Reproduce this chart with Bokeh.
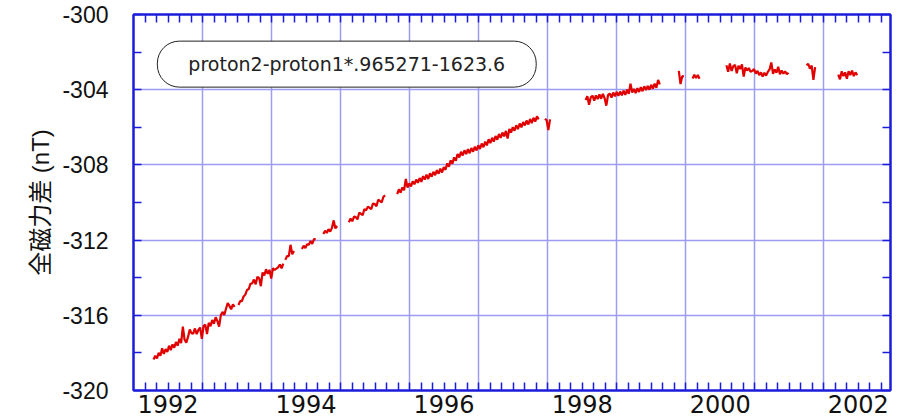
import numpy as np
from bokeh.plotting import figure
from bokeh.models import Range1d, FixedTicker, LinearAxis, Label
from bokeh.embed import file_html
from bokeh.resources import INLINE

# ---------------- data ----------------
STEP = 0.025  # years between samples
seg_starts = [1992.29, 1993.52, 1994.20, 1994.44, 1994.75, 1995.12, 1995.82,
              1997.96, 1998.55, 1999.90, 2000.10, 2000.59, 2001.75, 2002.21]

seg_a = [-318.35, -318.15, -318.30, -318.00, -318.15, -317.75, -318.05, -317.80, -317.95, -317.62,
         -317.85, -317.55, -317.72, -317.42, -317.62, -317.25, -317.48, -316.60, -317.30, -317.45,
         -317.15, -316.75, -316.95, -316.98, -316.70, -317.00, -316.78, -316.65, -317.25, -316.58,
         -316.50, -317.00, -316.40, -316.58, -316.25, -316.45, -316.10, -316.30, -316.60, -316.00,
         -315.82, -315.98, -315.65, -315.35, -315.50, -315.68, -315.42, -315.55]
seg_b = [-315.45, -315.25, -315.25, -315.00, -314.90, -314.65, -314.60, -314.32, -314.30, -314.10,
         -314.35, -313.95, -314.02, -314.45, -313.72, -313.88, -313.55, -313.80, -313.58, -314.05,
         -313.50, -313.58, -313.52, -313.45, -313.30, -313.50, -313.25]
seg_c = [-313.05, -312.85, -312.85, -312.25, -312.75, -312.58]
seg_d = [-312.48, -312.30, -312.42, -312.22, -312.25, -312.05, -312.20, -311.95, -311.95]
seg_e = [-311.68, -311.50, -311.62, -311.42, -311.55, -311.35, -310.95, -311.38, -311.25]
seg_f = [-311.05, -310.85, -311.00, -310.75, -310.78, -310.90, -310.55, -310.60, -310.68, -310.35,
         -310.42, -310.22, -310.28, -310.35, -310.05, -310.08, -310.20, -309.85, -309.92, -310.00,
         -309.70, -309.62]
seg_g = [-309.55, -309.30, -309.48, -309.20, -309.35, -308.75, -309.20, -308.98, -309.15, -308.88,
         -309.03, -308.78, -308.95, -308.70, -308.90, -308.60, -308.78, -308.52, -308.75, -308.45,
         -308.63, -308.37, -308.55, -308.28, -308.47, -308.20, -308.40, -308.12, -308.26, -307.92,
         -308.10, -307.76, -307.94, -307.60, -307.78, -307.42, -307.60, -307.30, -307.50, -307.22,
         -307.43, -307.16, -307.38, -307.10, -307.30, -307.03, -307.23, -306.96, -307.15, -306.86,
         -307.06, -306.76, -306.96, -306.64, -306.84, -306.56, -306.76, -306.46, -306.66, -306.36,
         -306.56, -306.28, -306.48, -306.19, -306.60, -306.09, -306.28, -305.99, -306.18, -305.89,
         -306.10, -305.80, -306.00, -305.72, -305.90, -305.64, -305.85, -305.56, -305.78, -305.49,
         -305.70, -305.42, -305.58]
seg_h = [-305.55, -305.62, -306.15, -305.58]
seg_i = [-304.55, -304.35, -304.80, -304.40, -304.32, -304.58, -304.30, -304.50, -304.25, -304.48,
         -304.22, -304.45, -304.85, -304.28, -304.20, -304.42, -304.15, -304.35, -304.12, -304.32,
         -304.10, -304.30, -304.05, -304.28, -304.00, -304.22, -303.68, -304.15, -303.96, -304.18,
         -303.92, -304.12, -303.86, -304.08, -303.82, -304.02, -303.80, -304.00, -303.74, -303.95,
         -303.68, -303.90, -303.48, -303.72]
seg_j = [-303.00, -303.70, -303.28, -303.30]
seg_k = [-303.40, -303.20, -303.38, -303.22, -303.42]
seg_l = [-302.70, -303.05, -302.60, -303.00, -302.75, -302.68, -303.12, -302.72, -302.90, -302.65,
         -303.30, -302.82, -302.98, -302.85, -303.05, -303.00, -302.90, -303.15, -303.00, -303.22,
         -303.08, -303.30, -303.10, -303.25, -303.05, -302.92, -302.55, -303.15, -302.92, -303.10,
         -302.78, -303.18, -302.98, -303.15, -303.02, -303.18, -303.10]
seg_m = [-302.70, -302.62, -302.88, -302.72, -303.48, -302.80]
seg_n = [-303.20, -303.45, -303.02, -303.28, -303.08, -303.42, -303.02, -303.22, -302.98, -303.28,
         -303.08, -303.22]
segments = [seg_a, seg_b, seg_c, seg_d, seg_e, seg_f, seg_g, seg_h, seg_i, seg_j, seg_k, seg_l, seg_m, seg_n]

year_labels = ["1992", "1994", "1996", "1998", "2000", "2002"]
year_label_pos = [1992.5, 1994.5, 1996.5, 1998.5, 2000.5, 2002.5]
year_grid = [1993, 1994, 1995, 1996, 1997, 1998, 1999, 2000, 2001, 2002]
y_major = [-320, -316, -312, -308, -304, -300]
y_labels = ["-320", "-316", "-312", "-308", "-304", "-300"]
y_minor = [-318, -314, -310, -306, -302]
y_grid = [-316, -312, -308, -304]
formula_text = "proton2-proton1*.965271-1623.6"
y_title = "全磁力差 (nT)"

# ---------------- build line with gaps ----------------
xs, ys = [], []
for start, vals in zip(seg_starts, segments):
    xs.extend(start + STEP * np.arange(len(vals)))
    ys.extend(vals)
    xs.append(np.nan)
    ys.append(np.nan)

AXIS = "#1c1cdc"
GRID = "#9c9cf2"

p = figure(width=900, height=418, output_backend="svg", toolbar_location=None,
           x_range=Range1d(1992.0, 2002.967), y_range=Range1d(-320, -300),
           x_axis_location=None, y_axis_location=None,
           min_border_left=133, min_border_right=10, min_border_top=14, min_border_bottom=28)
p.background_fill_color = "white"
p.border_fill_color = "white"
p.outline_line_color = AXIS
p.outline_line_width = 2

minor_x = [1992 + k / 6 for k in range(1, 66)]

bottom = LinearAxis(ticker=FixedTicker(ticks=year_label_pos, minor_ticks=minor_x))
bottom.major_label_overrides = {pos: lab for pos, lab in zip(year_label_pos, year_labels)}
top = LinearAxis(ticker=FixedTicker(ticks=[], minor_ticks=minor_x))
left = LinearAxis(ticker=FixedTicker(ticks=y_major, minor_ticks=y_minor))
left.major_label_overrides = {v: s for v, s in zip(y_major, y_labels)}
right = LinearAxis(ticker=FixedTicker(ticks=[], minor_ticks=y_major + y_minor))

for ax in (bottom, top, left, right):
    ax.axis_line_color = AXIS
    ax.axis_line_width = 2
    ax.major_tick_line_color = AXIS
    ax.minor_tick_line_color = AXIS
    ax.major_tick_line_width = 1.5
    ax.minor_tick_line_width = 1.5
    ax.major_tick_out = 0
    ax.minor_tick_out = 0
    ax.minor_tick_in = 8

bottom.major_tick_in = 0
bottom.major_label_text_font = "DejaVu Sans"
bottom.major_label_text_font_size = "24px"
bottom.major_label_text_color = "#111111"
bottom.major_label_standoff = 4

left.major_tick_in = 8
left.major_label_text_font = "Liberation Sans"
left.major_label_text_font_size = "23px"
left.major_label_text_color = "#111111"
left.major_label_standoff = 25
left.axis_label = y_title
left.axis_label_text_font = "Liberation Sans, Noto Sans CJK JP"
left.axis_label_text_font_size = "24px"
left.axis_label_text_font_style = "normal"
left.axis_label_text_color = "#111111"
left.axis_label_standoff = 5

p.add_layout(bottom, "below")
p.add_layout(top, "above")
p.add_layout(left, "left")
p.add_layout(right, "right")

p.xgrid.ticker = FixedTicker(ticks=year_grid)
p.ygrid.ticker = FixedTicker(ticks=y_grid)
for g in (p.xgrid, p.ygrid):
    g.grid_line_color = GRID
    g.grid_line_width = 1.5

p.line(xs, ys, line_color="#e00000", line_width=2.2)

lab = Label(x=1995.09, y=-302.64, text=formula_text, text_align="center", text_baseline="middle",
            text_font="DejaVu Sans", text_font_size="19px", text_color="#222222",
            border_line_color="#222222", border_line_width=1, background_fill_color="white",
            padding=dict(left=31, right=31, top=12, bottom=12), border_radius=22)
p.add_layout(lab)

open("out.html", "w").write(file_html(p, INLINE))
